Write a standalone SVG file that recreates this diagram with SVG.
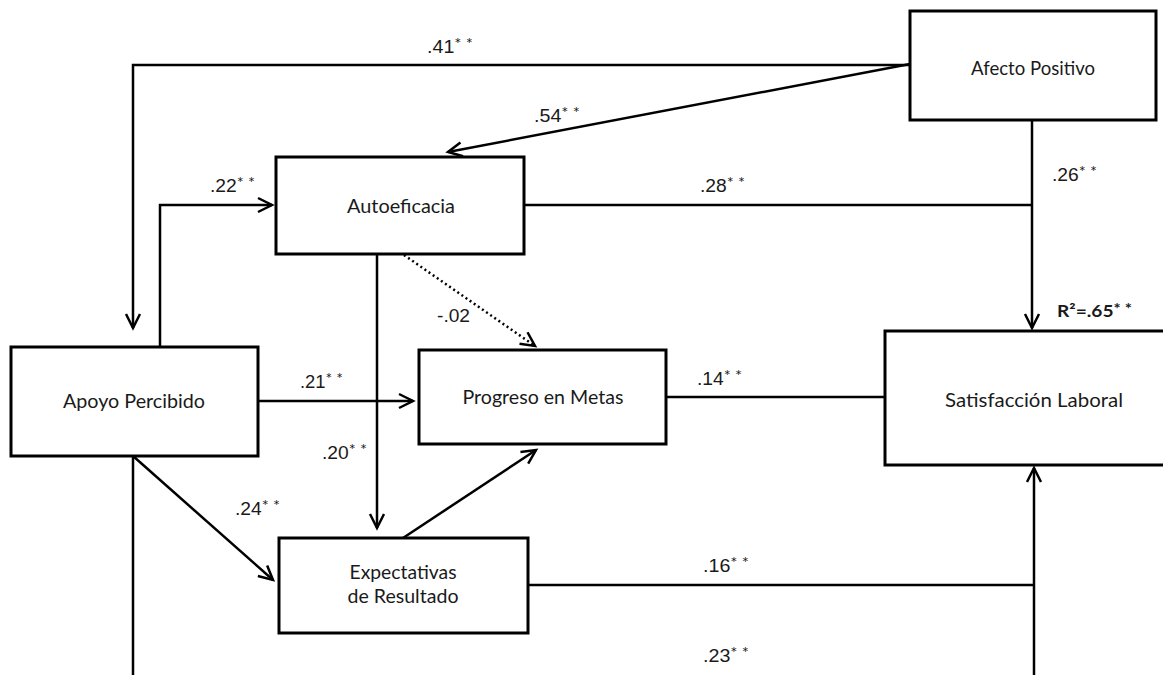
<svg xmlns="http://www.w3.org/2000/svg" width="1163" height="675" viewBox="0 0 1163 675">
<style>
.box{fill:#fff;stroke:#000;stroke-width:3}
.nt{font-family:Lato,"Liberation Sans",sans-serif;font-size:20px;fill:#1a1a1a;text-anchor:middle}
.ln{fill:none;stroke:#000;stroke-width:2.5}
.dot{fill:none;stroke:#000;stroke-width:2.5;stroke-dasharray:2 3}
.lb{font-family:"Liberation Sans",Arial,sans-serif;font-size:17.5px;fill:#1a1a1a}
.st{font-family:Lato,sans-serif;font-size:15px}
</style>
<defs>
<marker id="a" markerUnits="userSpaceOnUse" markerWidth="24" markerHeight="24" refX="16" refY="8" orient="auto" viewBox="0 0 24 16">
<path d="M2,1 L16,8 L2,15" fill="none" stroke="#000" stroke-width="2.5"/>
</marker>
</defs>
<g id="connectors">
<path class="ln" d="M910,65 H133 V328" marker-end="url(#a)"/>
<path class="ln" d="M910,64 L448,152" marker-end="url(#a)"/>
<path class="ln" d="M160,347 V205 H272" marker-end="url(#a)"/>
<path class="ln" d="M524,205 H1032"/>
<path class="ln" d="M1032,120 V328" marker-end="url(#a)"/>
<path class="dot" d="M404,255 L535,346" marker-end="url(#a)"/>
<path class="ln" d="M377,254 V528" marker-end="url(#a)"/>
<path class="ln" d="M258,401 H413" marker-end="url(#a)"/>
<path class="ln" d="M666,397 H885"/>
<path class="ln" d="M133,456 L273,580" marker-end="url(#a)"/>
<path class="ln" d="M403,538 L536,450" marker-end="url(#a)"/>
<path class="ln" d="M528,585 H1034"/>
<path class="ln" d="M1034,675 V468" marker-end="url(#a)"/>
<path class="ln" d="M133,456 V675"/>
</g>
<g id="afecto"><rect class="box" x="910" y="11" width="246" height="109"/><text class="nt" x="1033" y="75" textLength="124" lengthAdjust="spacingAndGlyphs">Afecto Positivo</text></g>
<g id="autoeficacia"><rect class="box" x="276" y="157" width="248" height="97"/><text class="nt" x="401" y="213" textLength="108" lengthAdjust="spacingAndGlyphs">Autoeficacia</text></g>
<g id="apoyo"><rect class="box" x="11" y="347" width="247" height="109"/><text class="nt" x="134" y="408" textLength="142" lengthAdjust="spacingAndGlyphs">Apoyo Percibido</text></g>
<g id="progreso"><rect class="box" x="419" y="350" width="247" height="94"/><text class="nt" x="543" y="404" textLength="161" lengthAdjust="spacingAndGlyphs">Progreso en Metas</text></g>
<g id="expectativas"><rect class="box" x="279" y="538" width="249" height="95"/><text class="nt" x="403" y="579" textLength="107" lengthAdjust="spacingAndGlyphs">Expectativas</text><text class="nt" x="403" y="603" textLength="111" lengthAdjust="spacingAndGlyphs">de Resultado</text></g>
<g id="satisfaccion"><rect class="box" x="885" y="331" width="290" height="134"/><text class="nt" x="1034" y="407" textLength="178" lengthAdjust="spacingAndGlyphs">Satisfacción Laboral</text></g>
<g id="labels">
<text class="lb" x="427" y="53" textLength="46" lengthAdjust="spacingAndGlyphs">.41<tspan class="st" dy="-4">* *</tspan></text>
<text class="lb" x="534" y="122" textLength="46" lengthAdjust="spacingAndGlyphs">.54<tspan class="st" dy="-4">* *</tspan></text>
<text class="lb" x="210" y="192" textLength="45" lengthAdjust="spacingAndGlyphs">.22<tspan class="st" dy="-4">* *</tspan></text>
<text class="lb" x="700" y="192" textLength="45" lengthAdjust="spacingAndGlyphs">.28<tspan class="st" dy="-4">* *</tspan></text>
<text class="lb" x="1052" y="181" textLength="45" lengthAdjust="spacingAndGlyphs">.26<tspan class="st" dy="-4">* *</tspan></text>
<text class="lb" x="437" y="322" textLength="33" lengthAdjust="spacingAndGlyphs">-.02</text>
<text class="lb" x="300" y="388" textLength="43" lengthAdjust="spacingAndGlyphs">.21<tspan class="st" dy="-4">* *</tspan></text>
<text class="lb" x="697" y="385" textLength="45" lengthAdjust="spacingAndGlyphs">.14<tspan class="st" dy="-4">* *</tspan></text>
<text class="lb" x="322" y="459" textLength="45" lengthAdjust="spacingAndGlyphs">.20<tspan class="st" dy="-4">* *</tspan></text>
<text class="lb" x="235" y="515" textLength="45" lengthAdjust="spacingAndGlyphs">.24<tspan class="st" dy="-4">* *</tspan></text>
<text class="lb" x="703" y="572" textLength="46" lengthAdjust="spacingAndGlyphs">.16<tspan class="st" dy="-4">* *</tspan></text>
<text class="lb" x="703" y="662" textLength="46" lengthAdjust="spacingAndGlyphs">.23<tspan class="st" dy="-4">* *</tspan></text>
<text x="1057" y="317" textLength="75" lengthAdjust="spacingAndGlyphs" style="font-family:Lato,sans-serif;font-size:17px;font-weight:bold;fill:#1a1a1a">R²=.65<tspan font-size="15" dy="-3">* *</tspan></text>
</g>
</svg>
